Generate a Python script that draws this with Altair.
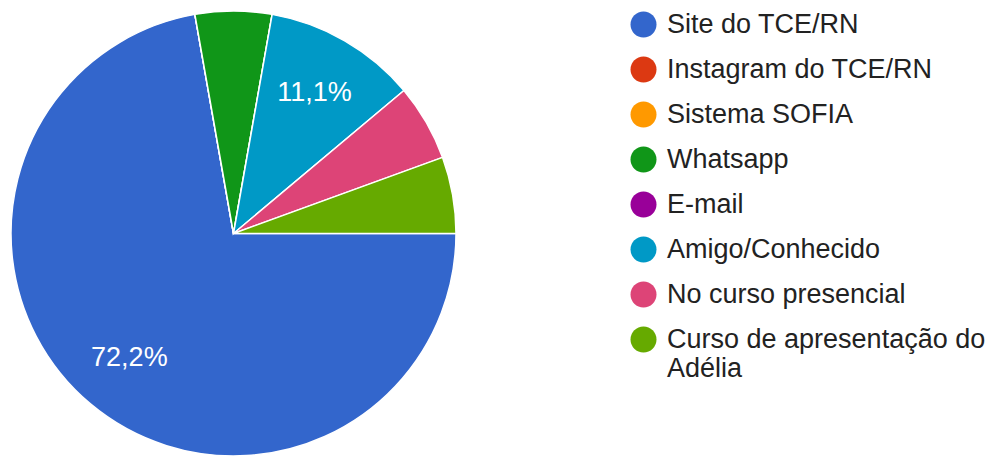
import math
import altair as alt
import pandas as pd

categories = ["Site do TCE/RN", "Instagram do TCE/RN", "Sistema SOFIA", "Whatsapp",
              "E-mail", "Amigo/Conhecido", "No curso presencial",
              "Curso de apresentação do Adélia"]
counts = [13, 0, 0, 1, 0, 2, 1, 1]
colors = ["#3366cc", "#dc3912", "#ff9900", "#109618", "#990099", "#0099c6",
          "#dd4477", "#66aa00"]

total = sum(counts)
labels = [(f"{c / total * 100:.1f}%".replace(".", ",") if c / total >= 0.1 else "")
          for c in counts]
df = pd.DataFrame({"cat": categories, "n": counts,
                   "idx": list(range(len(categories))), "label": labels})

FONT = "Liberation Sans"
theta_scale = alt.Scale(range=[math.pi / 2, math.pi / 2 + 2 * math.pi])
cx, cy = 225.5, 225.5

legend = alt.Legend(
    title=None, orient="none", legendX=622, legendY=3, direction="vertical",
    symbolType="circle", symbolSize=676, symbolStrokeWidth=0, symbolOpacity=1,
    labelFont=FONT, labelFontSize=27, labelColor="#222222", labelLimit=500,
    labelOffset=10, rowPadding=17, padding=0,
    labelExpr="datum.label == 'Curso de apresentação do Adélia' ? ['Curso de apresentação do', 'Adélia'] : datum.label",
)

arcs = alt.Chart(df).mark_arc(outerRadius=222.5, stroke="white", strokeWidth=1.5).encode(
    theta=alt.Theta("n:Q", stack=True, scale=theta_scale),
    color=alt.Color("cat:N", scale=alt.Scale(domain=categories, range=colors),
                    sort=categories, legend=legend),
    order=alt.Order("idx:Q"),
    x=alt.value(cx), y=alt.value(cy),
)

texts = alt.Chart(df).mark_text(radius=162, font=FONT, fontSize=27, color="white",
                                align="center", baseline="middle").encode(
    theta=alt.Theta("n:Q", stack=True, scale=theta_scale),
    text=alt.Text("label:N"),
    order=alt.Order("idx:Q"),
    x=alt.value(cx), y=alt.value(cy),
)

chart = alt.layer(arcs, texts).properties(width=451, height=440, padding=0).configure_view(
    stroke=None
)

chart.save("out.html", embed_options={"renderer": "svg", "actions": False})
